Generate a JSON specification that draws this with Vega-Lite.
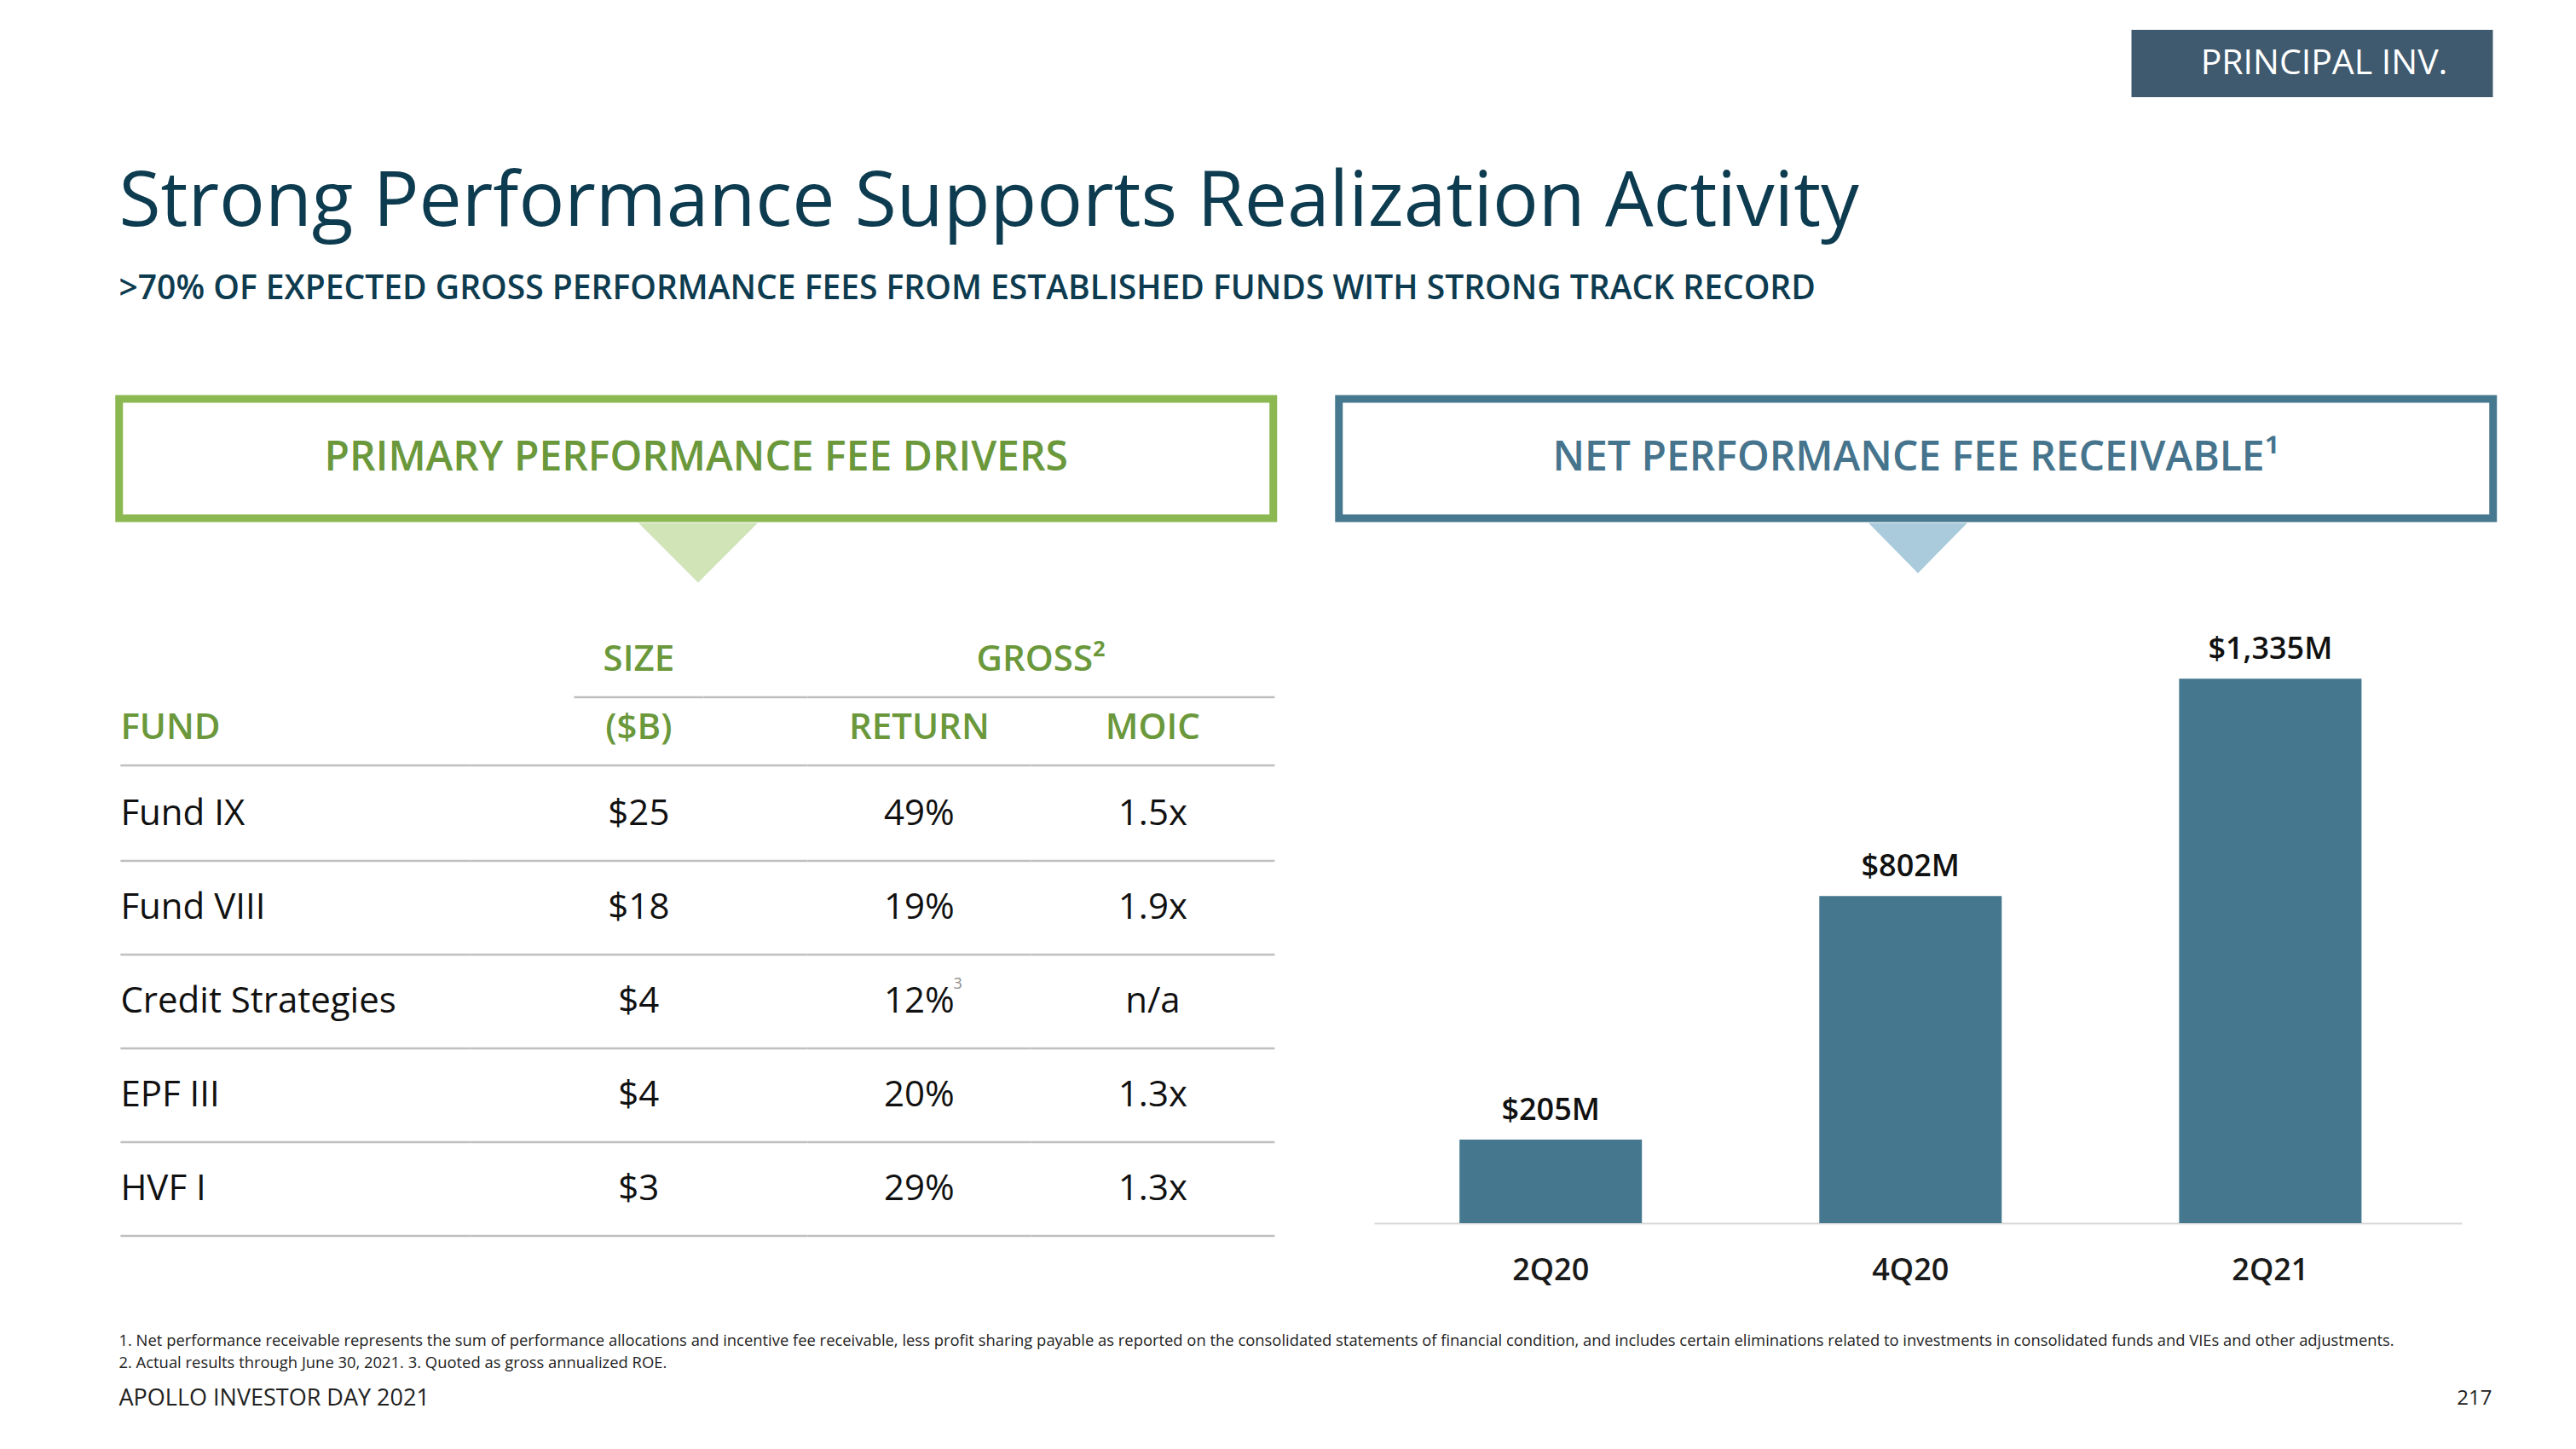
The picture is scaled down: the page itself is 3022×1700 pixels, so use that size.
{
  "$schema": "https://vega.github.io/schema/vega-lite/v6.json",
  "background": "white",
  "padding": {"left": 134.5, "top": 35, "right": 0, "bottom": 0},
  "config": {
    "view": {"stroke": null},
    "font": "Open Sans",
    "text": {"font": "Open Sans"},
    "axis": {"labelFont": "Open Sans"}
  },
  "datasets": {
    "funds": [
      {"fund": "Fund IX", "size": "$25", "ret": "49%", "moic": "1.5x"},
      {"fund": "Fund VIII", "size": "$18", "ret": "19%", "moic": "1.9x"},
      {"fund": "Credit Strategies", "size": "$4", "ret": "12%", "note": "3", "moic": "n/a"},
      {"fund": "EPF III", "size": "$4", "ret": "20%", "moic": "1.3x"},
      {"fund": "HVF I", "size": "$3", "ret": "29%", "moic": "1.3x"}
    ],
    "bars": [
      {"period": "2Q20", "value": 205, "label": "$205M"},
      {"period": "4Q20", "value": 802, "label": "$802M"},
      {"period": "2Q21", "value": 1335, "label": "$1,335M"}
    ],
    "notes": [
      {"n": "1", "text": "1. Net performance receivable represents the sum of performance allocations and incentive fee receivable, less profit sharing payable as reported on the consolidated statements of financial condition, and includes certain eliminations related to investments in consolidated funds and VIEs and other adjustments."},
      {"n": "2", "text": "2. Actual results through June 30, 2021. 3. Quoted as gross annualized ROE."}
    ]
  },
  "spacing": 73,
  "vconcat": [
    {
      "spacing": 0,
      "bounds": "flush",
      "hconcat": [
        {"width": 2361, "height": 79, "data": {"values": [{}]}, "mark": {"type": "text", "text": ""}, "encoding": {}},
        {
          "width": 424, "height": 79,
          "view": {"fill": "#3f5a6e", "stroke": null},
          "data": {"values": [{"label": "PRINCIPAL INV."}]},
          "mark": {"type": "text", "color": "white", "fontSize": 41, "dx": 14},
          "encoding": {"text": {"field": "label"}}
        }
      ]
    },
    {
      "width": 2784, "height": 203,
      "data": {"values": [
        {"row": "title", "text": "Strong Performance Supports Realization Activity"},
        {"row": "subtitle", "text": ">70% OF EXPECTED GROSS PERFORMANCE FEES FROM ESTABLISHED FUNDS WITH STRONG TRACK RECORD"}
      ]},
      "encoding": {
        "y": {"field": "row", "type": "nominal", "scale": {"type": "band", "domain": ["title", "subtitle"], "paddingInner": 0, "paddingOuter": 0}, "axis": null},
        "x": {"value": 0},
        "text": {"field": "text"}
      },
      "layer": [
        {"transform": [{"filter": "datum.row === 'title'"}], "mark": {"type": "text", "align": "left", "fontSize": 89.5, "color": "#0d3b4f"}},
        {"transform": [{"filter": "datum.row === 'subtitle'"}], "mark": {"type": "text", "align": "left", "fontSize": 39, "fontWeight": 600, "color": "#0d3b4f"}}
      ]
    },
    {
      "spacing": 52,
      "vconcat": [
        {
          "spacing": 67,
          "hconcat": [
            {
              "spacing": 0,
              "center": true,
              "vconcat": [
                {
                  "width": 1354, "height": 140,
                  "view": {"stroke": "#8cb852", "strokeWidth": 9, "fill": "white"},
                  "data": {"values": [{"label": "PRIMARY PERFORMANCE FEE DRIVERS"}]},
                  "mark": {"type": "text", "fontSize": 48, "fontWeight": 600, "color": "#6a983b"},
                  "encoding": {"text": {"field": "label"}}
                },
                {
                  "width": 1354, "height": 113,
                  "data": {"values": [{"id": "g"}]},
                  "mark": {"type": "point", "shape": "M-1,-0.8L1,-0.8L0,0.2Z", "size": 19600, "filled": true, "color": "#d0e4b8", "opacity": 1, "strokeWidth": 0},
                  "encoding": {}
                },
                {
                  "spacing": 0,
                  "bounds": "flush",
                  "hconcat": [
                    {"width": 532, "height": 92, "data": {"values": [{}]}, "mark": {"type": "text", "text": ""}, "encoding": {}},
                    {
                      "width": 152, "height": 92,
                      "data": {"values": [{"h": "SIZE"}]},
                      "layer": [
                        {"mark": {"type": "rule", "color": "#bfbfbf", "strokeWidth": 2.5}, "encoding": {"x": {"value": 0}, "x2": {"value": "width"}, "y": {"value": "height"}}},
                        {"mark": {"type": "text", "dy": 2, "fontSize": 42, "fontWeight": 600, "color": "#6a983b"}, "encoding": {"text": {"field": "h"}}}
                      ]
                    },
                    {
                      "width": 122, "height": 92,
                      "data": {"values": [{}]},
                      "mark": {"type": "rule", "color": "#bfbfbf", "strokeWidth": 2.5},
                      "encoding": {"x": {"value": 0}, "x2": {"value": "width"}, "y": {"value": "height"}}
                    },
                    {
                      "width": 548, "height": 92,
                      "data": {"values": [{"h": "GROSS²"}]},
                      "layer": [
                        {"mark": {"type": "rule", "color": "#bfbfbf", "strokeWidth": 2.5}, "encoding": {"x": {"value": 0}, "x2": {"value": "width"}, "y": {"value": "height"}}},
                        {"mark": {"type": "text", "dy": 2, "fontSize": 42, "fontWeight": 600, "color": "#6a983b"}, "encoding": {"text": {"field": "h"}}}
                      ]
                    }
                  ]
                },
                {
                  "spacing": 0,
                  "bounds": "flush",
                  "hconcat": [
                    {
                      "width": 410, "height": 78,
                      "data": {"values": [{"h": "FUND"}]},
                      "layer": [
                        {"mark": {"type": "rule", "color": "#bfbfbf", "strokeWidth": 2.5}, "encoding": {"x": {"value": 0}, "x2": {"value": "width"}, "y": {"value": "height"}}},
                        {"mark": {"type": "text", "align": "left", "dy": -5, "fontSize": 42, "fontWeight": 600, "color": "#6a983b"}, "encoding": {"x": {"value": 0}, "text": {"field": "h"}}}
                      ]
                    },
                    {
                      "width": 396, "height": 78,
                      "data": {"values": [{"h": "($B)"}]},
                      "layer": [
                        {"mark": {"type": "rule", "color": "#bfbfbf", "strokeWidth": 2.5}, "encoding": {"x": {"value": 0}, "x2": {"value": "width"}, "y": {"value": "height"}}},
                        {"mark": {"type": "text", "dy": -5, "fontSize": 42, "fontWeight": 600, "color": "#6a983b"}, "encoding": {"text": {"field": "h"}}}
                      ]
                    },
                    {
                      "width": 262, "height": 78,
                      "data": {"values": [{"h": "RETURN"}]},
                      "layer": [
                        {"mark": {"type": "rule", "color": "#bfbfbf", "strokeWidth": 2.5}, "encoding": {"x": {"value": 0}, "x2": {"value": "width"}, "y": {"value": "height"}}},
                        {"mark": {"type": "text", "dy": -5, "fontSize": 42, "fontWeight": 600, "color": "#6a983b"}, "encoding": {"text": {"field": "h"}}}
                      ]
                    },
                    {
                      "width": 286, "height": 78,
                      "data": {"values": [{"h": "MOIC"}]},
                      "layer": [
                        {"mark": {"type": "rule", "color": "#bfbfbf", "strokeWidth": 2.5}, "encoding": {"x": {"value": 0}, "x2": {"value": "width"}, "y": {"value": "height"}}},
                        {"mark": {"type": "text", "dy": -5, "fontSize": 42, "fontWeight": 600, "color": "#6a983b"}, "encoding": {"text": {"field": "h"}}}
                      ]
                    }
                  ]
                },
                {
                  "spacing": 0,
                  "bounds": "flush",
                  "hconcat": [
                    {
                      "width": 410, "height": 550,
                      "data": {"name": "funds"},
                      "encoding": {"y": {"field": "fund", "type": "nominal", "sort": null, "scale": {"type": "band", "paddingInner": 0, "paddingOuter": 0}, "axis": null}},
                      "layer": [
                        {"mark": {"type": "rule", "color": "#bfbfbf", "strokeWidth": 2.5}, "encoding": {"y": {"field": "fund", "type": "nominal", "sort": null, "bandPosition": 1}, "x": {"value": 0}, "x2": {"value": "width"}}},
                        {"mark": {"type": "text", "align": "left", "fontSize": 42, "color": "#111111"}, "encoding": {"x": {"value": 0}, "text": {"field": "fund"}}}
                      ]
                    },
                    {
                      "width": 396, "height": 550,
                      "data": {"name": "funds"},
                      "encoding": {"y": {"field": "fund", "type": "nominal", "sort": null, "scale": {"type": "band", "paddingInner": 0, "paddingOuter": 0}, "axis": null}},
                      "layer": [
                        {"mark": {"type": "rule", "color": "#bfbfbf", "strokeWidth": 2.5}, "encoding": {"y": {"field": "fund", "type": "nominal", "sort": null, "bandPosition": 1}, "x": {"value": 0}, "x2": {"value": "width"}}},
                        {"mark": {"type": "text", "fontSize": 42, "color": "#111111"}, "encoding": {"text": {"field": "size"}}}
                      ]
                    },
                    {
                      "width": 262, "height": 550,
                      "data": {"name": "funds"},
                      "encoding": {"y": {"field": "fund", "type": "nominal", "sort": null, "scale": {"type": "band", "paddingInner": 0, "paddingOuter": 0}, "axis": null}},
                      "layer": [
                        {"mark": {"type": "rule", "color": "#bfbfbf", "strokeWidth": 2.5}, "encoding": {"y": {"field": "fund", "type": "nominal", "sort": null, "bandPosition": 1}, "x": {"value": 0}, "x2": {"value": "width"}}},
                        {"mark": {"type": "text", "fontSize": 42, "color": "#111111"}, "encoding": {"text": {"field": "ret"}}},
                        {"transform": [{"filter": "isValid(datum.note)"}], "mark": {"type": "text", "align": "left", "dx": 40, "dy": -20, "fontSize": 18, "color": "#8c8c8c"}, "encoding": {"text": {"field": "note"}}}
                      ]
                    },
                    {
                      "width": 286, "height": 550,
                      "data": {"name": "funds"},
                      "encoding": {"y": {"field": "fund", "type": "nominal", "sort": null, "scale": {"type": "band", "paddingInner": 0, "paddingOuter": 0}, "axis": null}},
                      "layer": [
                        {"mark": {"type": "rule", "color": "#bfbfbf", "strokeWidth": 2.5}, "encoding": {"y": {"field": "fund", "type": "nominal", "sort": null, "bandPosition": 1}, "x": {"value": 0}, "x2": {"value": "width"}}},
                        {"mark": {"type": "text", "fontSize": 42, "color": "#111111"}, "encoding": {"text": {"field": "moic"}}}
                      ]
                    }
                  ]
                }
              ]
            },
            {
              "spacing": 0,
              "center": true,
              "vconcat": [
                {
                  "width": 1354, "height": 140,
                  "view": {"stroke": "#46788f", "strokeWidth": 9, "fill": "white"},
                  "data": {"values": [{"label": "NET PERFORMANCE FEE RECEIVABLE¹"}]},
                  "mark": {"type": "text", "fontSize": 48, "fontWeight": 600, "color": "#46748d"},
                  "encoding": {"text": {"field": "label"}}
                },
                {
                  "width": 1354, "height": 113,
                  "data": {"values": [{"id": "b"}]},
                  "mark": {"type": "point", "shape": "M-1,-0.966L1,-0.966L0,0.052Z", "size": 13456, "filled": true, "color": "#aacbdb", "opacity": 1, "strokeWidth": 0},
                  "encoding": {}
                },
                {
                  "width": 1276, "height": 709,
                  "data": {"name": "bars"},
                  "encoding": {
                    "x": {"field": "period", "type": "ordinal", "sort": null, "scale": {"paddingInner": 0.493, "paddingOuter": 0.258, "align": 0.46},
                      "axis": {"title": null, "labelAngle": 0, "ticks": false, "labelPadding": 38, "labelFontSize": 36, "labelFontWeight": 600, "labelColor": "#1a1a1a", "domainColor": "#d9d9d9", "domainWidth": 2, "grid": false}},
                    "y": {"field": "value", "type": "quantitative", "scale": {"domain": [0, 1482], "nice": false, "zero": true}, "axis": null}
                  },
                  "layer": [
                    {"mark": {"type": "bar", "color": "#45788f"}},
                    {"mark": {"type": "text", "baseline": "alphabetic", "dy": -23, "fontSize": 36, "fontWeight": 600, "color": "#111111"}, "encoding": {"text": {"field": "label"}}}
                  ]
                }
              ]
            }
          ]
        },
        {
          "spacing": 0,
          "vconcat": [
            {
              "width": 2784, "height": 52,
              "data": {"name": "notes"},
              "mark": {"type": "text", "align": "left", "fontSize": 18.4, "color": "#222222"},
              "encoding": {
                "y": {"field": "n", "type": "nominal", "sort": null, "scale": {"type": "band", "paddingInner": 0, "paddingOuter": 0}, "axis": null},
                "x": {"value": 0},
                "text": {"field": "text"}
              }
            },
            {
              "width": 2784, "height": 58,
              "data": {"values": [
                {"side": "left", "label": "APOLLO INVESTOR DAY 2021"},
                {"side": "right", "label": "217"}
              ]},
              "encoding": {
                "x": {"field": "side", "type": "nominal", "scale": {"type": "point", "domain": ["left", "right"], "padding": 0}, "axis": null},
                "text": {"field": "label"}
              },
              "layer": [
                {"transform": [{"filter": "datum.side === 'left'"}], "mark": {"type": "text", "align": "left", "fontSize": 27, "color": "#222222"}},
                {"transform": [{"filter": "datum.side === 'right'"}], "mark": {"type": "text", "align": "right", "fontSize": 24, "color": "#222222"}}
              ]
            }
          ]
        }
      ]
    }
  ]
}
